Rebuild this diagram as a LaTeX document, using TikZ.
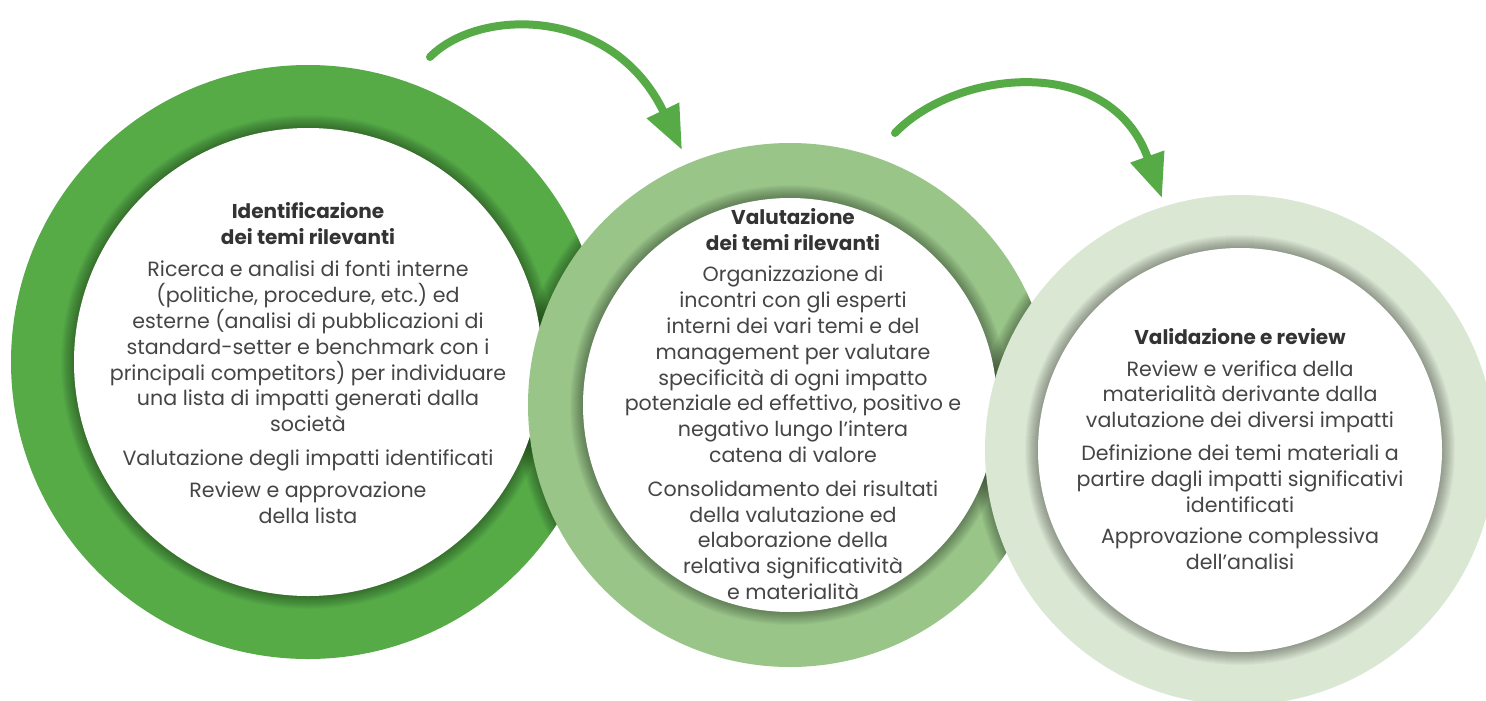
\documentclass[tikz,border=0pt]{standalone}
\usepackage{fontspec}
\setmainfont{Poppins}
\usetikzlibrary{arrows.meta}
\definecolor{gA}{HTML}{56AB47}
\definecolor{gB}{HTML}{99C589}
\definecolor{gC}{HTML}{DAE7D3}
\definecolor{txt}{HTML}{454545}
\definecolor{ttl}{HTML}{333333}
\newcommand{\ttlline}[1]{\textcolor{ttl}{\fontsize{20}{25.6}\selectfont\textbf{#1}}}
\frenchspacing
\begin{document}
\begin{tikzpicture}[x=1pt,y=-1pt,
  bodytext/.style={align=center, text=txt, font=\fontsize{20.6}{25.8}\selectfont\frenchspacing, inner sep=0pt, anchor=north},
  flowarrow/.style={draw=gA, line width=8pt, line cap=round, -{Triangle[width=34pt,length=44pt]}},
  shadowlayer/.style={fill=black, opacity=0.026}]
\useasboundingbox (0,0) rectangle (1486,701);
\fill[white] (0,0) rectangle (1486,701);
% centres
\coordinate (c1) at (308,362);
\coordinate (c2) at (790,405);
\coordinate (c3) at (1240,450);
% ---- ring 1
\fill[gA] (c1) circle (297pt);
\foreach \i in {1,...,13} \fill[shadowlayer] (c1) circle ({234pt+\i pt});
\begin{scope}
  \clip (c1) circle (297pt);
  \foreach \i in {1,...,12} \fill[shadowlayer] (c2) circle ({262pt+\i pt});
\end{scope}
\fill[white] (c1) circle (234pt);
% ---- ring 2
\fill[gB] (c2) circle (262pt);
\foreach \i in {1,...,13} \fill[shadowlayer] (c2) circle ({207pt+\i pt});
\begin{scope}
  \clip (c2) circle (262pt);
  \foreach \i in {1,...,12} \fill[shadowlayer] (c3) circle ({255pt+\i pt});
\end{scope}
\fill[white] (c2) circle (207pt);
% ---- ring 3
\fill[gC] (c3) circle (255pt);
\foreach \i in {1,...,13} \fill[shadowlayer] (c3) circle ({202pt+\i pt});
\fill[white] (c3) circle (202pt);
% ---- texts
\node[bodytext] (t1) at (308,202) {%
\ttlline{Identificazione}\\
\ttlline{dei temi rilevanti}\\[7pt]
Ricerca e analisi di fonti interne\\
(politiche, procedure, etc.) ed\\
esterne (analisi di pubblicazioni di\\
standard-setter e benchmark con i\\
principali competitors) per individuare\\
una lista di impatti generati dalla\\
società\\[8pt]
Valutazione degli impatti identificati\\[6pt]
Review e approvazione\\
della lista};
\node[bodytext] (t2) at (793,208) {%
\ttlline{Valutazione}\\
\ttlline{dei temi rilevanti}\\[6pt]
Organizzazione di\\
incontri con gli esperti\\
interni dei vari temi e del\\
management per valutare\\
specificità di ogni impatto\\
potenziale ed effettivo, positivo e\\
negativo lungo l’intera\\
catena di valore\\[8pt]
Consolidamento dei risultati\\
della valutazione ed\\
elaborazione della\\
relativa significatività\\
e materialità};
\node[bodytext] (t3) at (1240,328) {%
\ttlline{Validazione e review}\\[6pt]
Review e verifica della\\
materialità derivante dalla\\
valutazione dei diversi impatti\\[7pt]
Definizione dei temi materiali a\\
partire dagli impatti significativi\\
identificati\\[6pt]
Approvazione complessiva\\
dell’analisi};
% ---- arrows
\coordinate (a1s) at (430,57);
\coordinate (a1e) at (682,150);
\coordinate (a2s) at (895,133);
\coordinate (a2e) at (1162,198);
\draw[flowarrow] (a1s) .. controls (478,8) and (612,5) .. (a1e);
\draw[flowarrow] (a2s) .. controls (955,70) and (1110,52) .. (a2e);
\end{tikzpicture}
\end{document}
